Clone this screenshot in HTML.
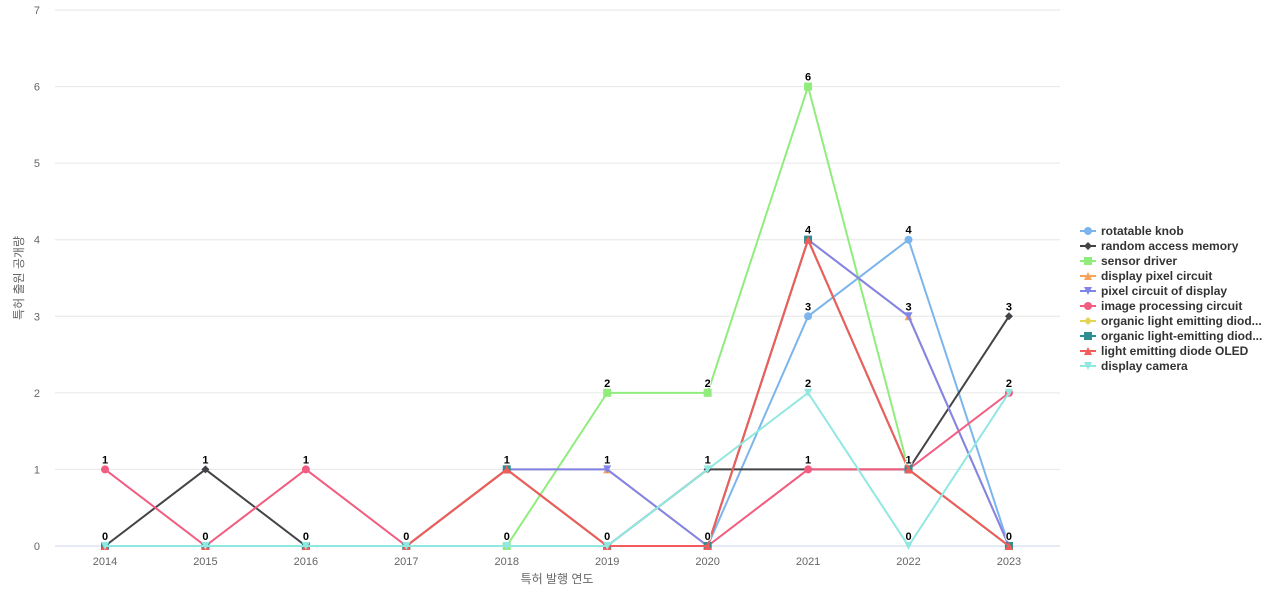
<!DOCTYPE html>
<html><head><meta charset="utf-8"><style>
html,body{margin:0;padding:0;background:#fff;}
svg{display:block;font-family:"Liberation Sans","Noto Sans CJK KR",sans-serif;}
</style></head><body>
<svg id="c" width="1280" height="600" xmlns="http://www.w3.org/2000/svg"></svg>
<script>
const svg=document.getElementById('c');
const NS='http://www.w3.org/2000/svg';
function el(t,a,txt){const e=document.createElementNS(NS,t);for(const k in a)e.setAttribute(k,a[k]);if(txt!==undefined)e.textContent=txt;svg.appendChild(e);return e;}
const X=i=>105+i*100.44, Y=v=>546-v*76.57;
for(let v=0;v<=7;v++){el('line',{x1:55,x2:1060,y1:Y(v),y2:Y(v),stroke:v==0?'#ccd6eb':'#e6e6e6','stroke-width':1});
el('text',{x:40,y:Y(v)+4,'text-anchor':'end','font-size':11,fill:'#666'},v);}
for(let i=0;i<10;i++)el('text',{x:X(i),y:565,'text-anchor':'middle','font-size':11,fill:'#666'},2014+i);
el('text',{x:557,y:583,'text-anchor':'middle','font-size':12,fill:'#666'},'특허 발행 연도');
el('text',{x:23,y:278,'text-anchor':'middle','font-size':12,fill:'#666',transform:'rotate(-90 23 278)'},'특허 출원 공개량');
const S=[
['rotatable knob','#7cb5ec','c',[0,0,0,0,0,0,0,3,4,0]],
['random access memory','#434348','d',[0,1,0,0,0,0,1,1,1,3]],
['sensor driver','#90ed7d','s',[0,0,0,0,0,2,2,6,1,0]],
['display pixel circuit','#f7a35c','t',[0,0,0,0,1,1,0,4,3,0]],
['pixel circuit of display','#8085e9','v',[0,0,0,0,1,1,0,4,3,0]],
['image processing circuit','#f15c80','c',[1,0,1,0,1,0,0,1,1,2]],
['organic light emitting diod...','#e4d354','d',[0,0,0,0,1,0,0,4,1,0]],
['organic light-emitting diod...','#2b908f','s',[0,0,0,0,1,0,0,4,1,0]],
['light emitting diode OLED','#f45b5b','t',[0,0,0,0,1,0,0,4,1,0]],
['display camera','#91e8e1','v',[0,0,0,0,0,0,1,2,0,2]]];
function mk(type,x,y,c,r){r=r||4;
 if(type=='c')el('circle',{cx:x,cy:y,r:r,fill:c});
 else if(type=='s')el('rect',{x:x-r,y:y-r,width:2*r,height:2*r,fill:c});
 else if(type=='d')el('path',{d:`M${x} ${y-r}L${x+r} ${y}L${x} ${y+r}L${x-r} ${y}Z`,fill:c});
 else if(type=='t')el('path',{d:`M${x} ${y-r}L${x+r} ${y+r}L${x-r} ${y+r}Z`,fill:c});
 else el('path',{d:`M${x-r} ${y-r}L${x+r} ${y-r}L${x} ${y+r}Z`,fill:c});}
S.forEach(s=>{el('polyline',{points:s[3].map((v,i)=>X(i)+','+Y(v)).join(' '),fill:'none',stroke:s[1],'stroke-width':2});
 s[3].forEach((v,i)=>mk(s[2],X(i),Y(v),s[1]));});
for(let i=0;i<10;i++){const vals=[...new Set(S.map(s=>s[3][i]))];
 vals.forEach(v=>el('text',{x:X(i),y:Y(v)-6,'text-anchor':'middle','font-size':11,'font-weight':'bold',fill:'#000',stroke:'#fff','stroke-width':2,'paint-order':'stroke'},v));}
S.forEach((s,k)=>{const y=231+k*15;
 el('line',{x1:1080,x2:1096,y1:y,y2:y,stroke:s[1],'stroke-width':2});mk(s[2],1088,y,s[1]);
 el('text',{x:1101,y:y+4,'font-size':12,'font-weight':'bold',fill:'#333'},s[0]);});
</script>
</body></html>
